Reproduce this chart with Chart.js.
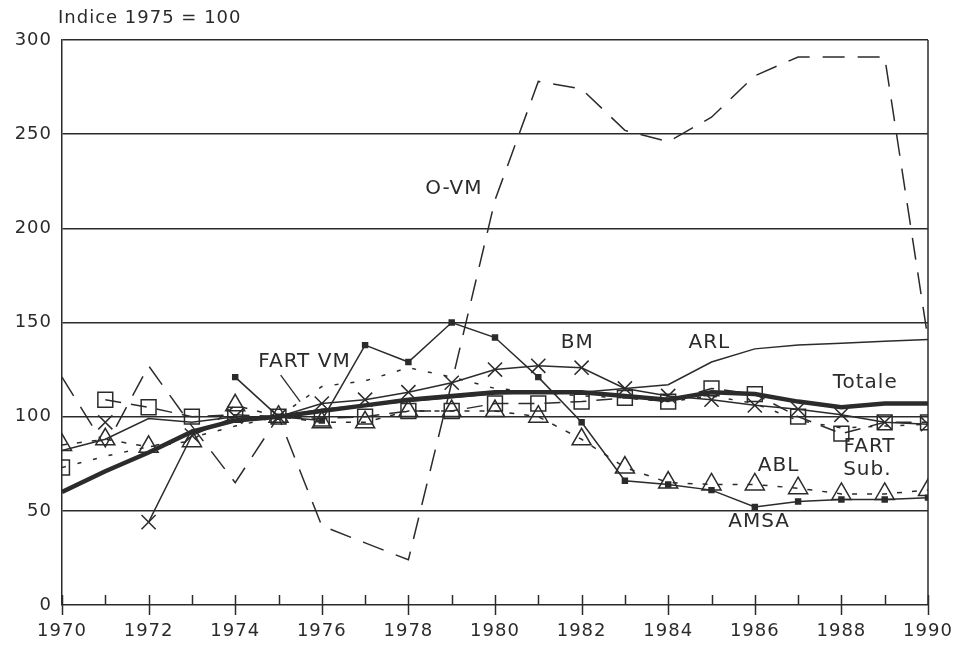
<!DOCTYPE html>
<html>
<head>
<meta charset="utf-8">
<script src="https://cdn.jsdelivr.net/npm/chart.js@4.4.1/dist/chart.umd.min.js"></script>
<style>
  html, body { margin: 0; padding: 0; background: #fff; }
</style>
</head>
<body>
<canvas id="c" width="955" height="647"></canvas>
<script>
// Indice 1975 = 100
const years = [1970, 1971, 1972, 1973, 1974, 1975, 1976, 1977, 1978, 1979, 1980,
               1981, 1982, 1983, 1984, 1985, 1986, 1987, 1988, 1989, 1990];
const totale  = [60, 71, 81, 92, 98, 100, 103, 106, 109, 111, 113, 113, 113, 111, 109, 113, 112, 108, 105, 107, 107];
const oVm     = [121, 84, 127, 95, 65, 100, 42, 33, 24, 118, 215, 278, 274, 252, 246, 259, 281, 291, 291, 291, 141];
const fartVm  = [73, 79, 84, 89, 95, 100, 116, 119, 126, 121, 115, 113, 111, 110, 108, 111, 107, 98, 94, 95, 96];
const fartSub = [null, 109, 105, 100, 101, 100, 99, 100, 103, 103, 107, 107, 108, 110, 108, 115, 112, 100, 91, 97, 97];
const bm      = [null, 97, 44, 90, 100, 100, 107, 109, 113, 118, 125, 127, 126, 115, 111, 109, 106, 104, 101, 97, 96];
const arl     = [82, 88, 99, 97, 100, 100, 104, 106, 108, 110, 112, 113, 113, 115, 117, 129, 136, 138, 139, 140, 141];
const abl     = [85, 88, 84, 87, 106, 100, 97, 97, 103, 103, 103, 100, 88, 73, 65, 64, 64, 62, 59, 59, 61];
const amsa    = [null, null, null, null, 121, 100, 98, 138, 129, 150, 142, 121, 97, 66, 64, 61, 52, 55, 56, 56, 57];
const yTicks = [0, 50, 100, 150, 200, 250, 300];
const xTickLabels = [1970, 1972, 1974, 1976, 1978, 1980, 1982, 1984, 1986, 1988, 1990];

const INK = '#2b2b2b';
const NONE = 'rgba(0,0,0,0)';
const FONT = '"DejaVu Sans", sans-serif';

const pts = vals => years.map((yr, i) => ({ x: yr, y: vals[i] }));

function serie(label, vals, extra) {
  return Object.assign({
    label: label,
    data: pts(vals),
    borderColor: INK,
    backgroundColor: NONE,
    borderWidth: 1.5,
    pointRadius: 0,
    pointBorderColor: INK,
    pointBackgroundColor: NONE,
    pointBorderWidth: 1.5,
    tension: 0,
    spanGaps: false
  }, extra || {});
}

// libellés des séries, placés en coordonnées des axes
const notes = [
  { t: 'O-VM', x: 1979.05, y: 221 },
  { t: 'FART VM', x: 1975.6, y: 129 },
  { t: 'BM', x: 1981.9, y: 139 },
  { t: 'ARL', x: 1984.95, y: 139 },
  { t: 'Totale', x: 1988.55, y: 118 },
  { t: 'FART', x: 1988.65, y: 84 },
  { t: 'Sub.', x: 1988.6, y: 72 },
  { t: 'ABL', x: 1986.55, y: 74 },
  { t: 'AMSA', x: 1986.1, y: 44 }
];

const decor = {
  id: 'decor',
  beforeDraw(chart) {
    chart.ctx.letterSpacing = '1px';
  },
  afterDraw(chart) {
    const { ctx, chartArea: a, scales: { x, y } } = chart;
    ctx.save();
    ctx.strokeStyle = INK;
    ctx.lineWidth = 1.5;
    // bord droit
    ctx.beginPath();
    ctx.moveTo(a.right, a.top);
    ctx.lineTo(a.right, a.bottom);
    ctx.stroke();
    // graduations de l'axe des x
    x.ticks.forEach(t => {
      const px = Math.round(x.getPixelForValue(t.value)) + 0.5;
      const major = t.value % 2 === 0;
      ctx.beginPath();
      ctx.moveTo(px, a.bottom + (major ? 10 : 0));
      ctx.lineTo(px, a.bottom - 10);
      ctx.stroke();
    });
    // trait de rappel FART VM
    ctx.lineWidth = 1.3;
    ctx.beginPath();
    ctx.moveTo(x.getPixelForValue(1975.05), y.getPixelForValue(122));
    ctx.lineTo(x.getPixelForValue(1975.5), y.getPixelForValue(108));
    ctx.stroke();

    ctx.fillStyle = INK;
    ctx.letterSpacing = '1px';
    ctx.font = '18px ' + FONT;
    ctx.textAlign = 'left';
    ctx.textBaseline = 'middle';
    ctx.fillText('Indice 1975 = 100', a.left - 4, a.top - 22);

    ctx.font = '20px ' + FONT;
    ctx.textAlign = 'center';
    notes.forEach(n => {
      ctx.fillText(n.t, x.getPixelForValue(n.x), y.getPixelForValue(n.y));
    });
    ctx.restore();
  }
};

new Chart(document.getElementById('c'), {
  type: 'line',
  data: {
    datasets: [
      serie('Totale', totale, { borderWidth: 4.5 }),
      serie('BM', bm, {
        pointStyle: 'crossRot', pointRadius: 10,
        segment: { borderColor: ctx => ctx.p0DataIndex === 1 ? NONE : INK }
      }),
      serie('AMSA', amsa, { pointStyle: 'rect', pointRadius: 3.5, pointBackgroundColor: INK }),
      serie('ARL', arl),
      serie('FART Sub.', fartSub, { borderDash: [16, 10], pointStyle: 'rect', pointRadius: 10.5 }),
      serie('ABL', abl, { borderDash: [5, 10], pointStyle: 'triangle', pointRadius: 11 }),
      serie('FART VM', fartVm, {
        borderDash: [4, 12], pointStyle: 'rect',
        pointRadius: years.map((yr, i) => i === 0 ? 10.5 : 0)
      }),
      serie('O-VM', oVm, { borderDash: [22, 13] })
    ]
  },
  options: {
    responsive: false,
    animation: false,
    devicePixelRatio: 1,
    layout: { padding: { top: 40, right: 27, left: 0, bottom: 0 } },
    plugins: {
      legend: { display: false },
      title: { display: false },
      tooltip: { enabled: false }
    },
    scales: {
      x: {
        type: 'linear',
        min: 1970,
        max: 1990,
        afterFit: s => { s.height = 42; s.paddingLeft = 0; s.paddingRight = 0; },
        afterBuildTicks: s => { s.ticks = years.map(v => ({ value: v })); },
        grid: { display: false, drawTicks: false },
        border: { display: false },
        ticks: {
          autoSkip: false,
          maxRotation: 0,
          padding: 16,
          color: INK,
          font: { family: FONT, size: 18 },
          callback: v => xTickLabels.includes(v) ? String(v) : ''
        }
      },
      y: {
        min: 0,
        max: 300,
        afterFit: s => { s.width = 62; },
        afterBuildTicks: s => { s.ticks = yTicks.map(v => ({ value: v })); },
        grid: { color: INK, lineWidth: 1.5, drawTicks: false },
        border: { display: true, color: INK, width: 1.5 },
        ticks: {
          padding: 10,
          color: INK,
          font: { family: FONT, size: 18 }
        }
      }
    }
  },
  plugins: [decor]
});
</script>
</body>
</html>
